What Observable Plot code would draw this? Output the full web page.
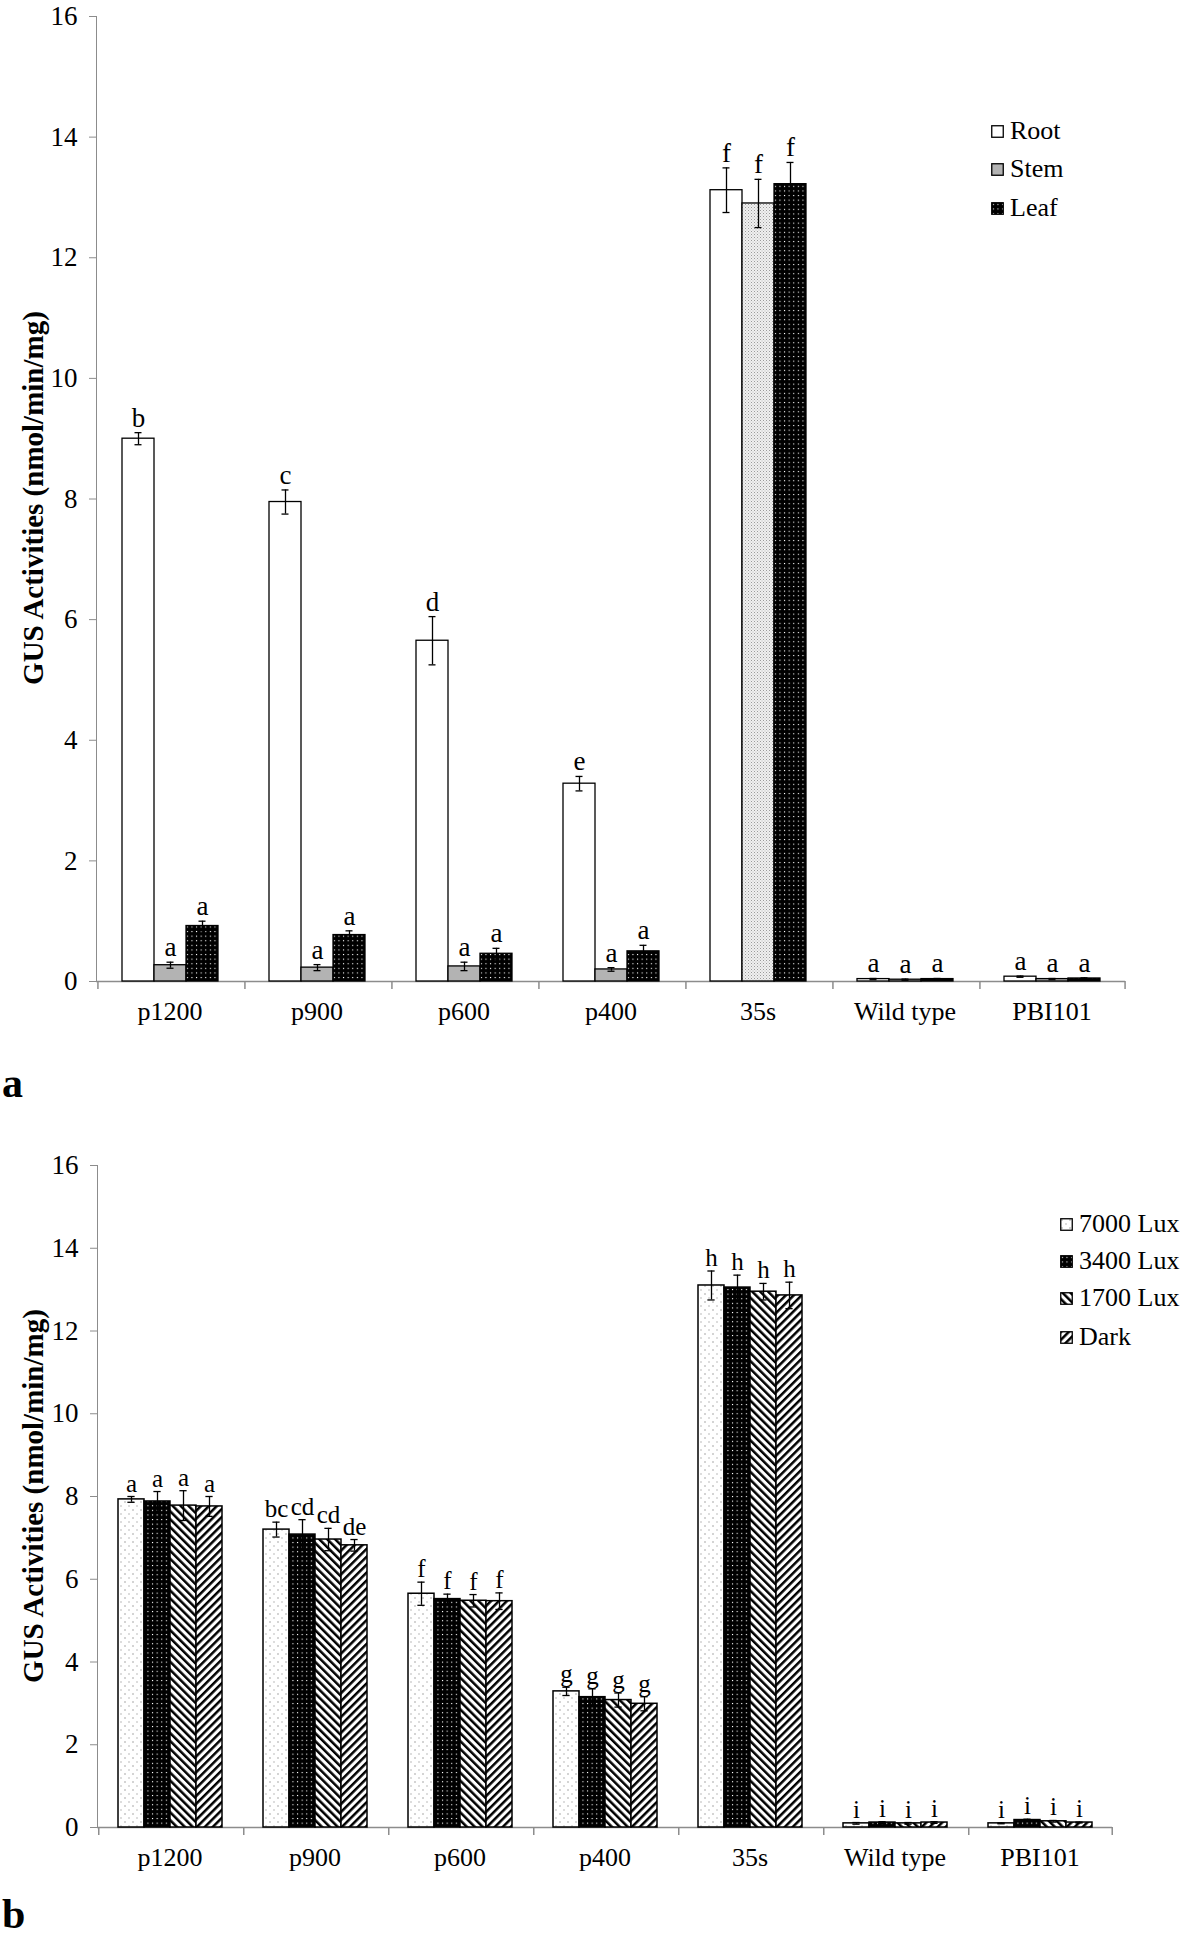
<!DOCTYPE html>
<html>
<head>
<meta charset="utf-8">
<script src="https://cdn.jsdelivr.net/npm/d3@7"></script>
<script src="https://cdn.jsdelivr.net/npm/@observablehq/plot@0.6"></script>
<style>
  body { margin: 0; background: #fff; font-family: "Liberation Serif", "Times New Roman", serif; }
  #page { position: relative; width: 1181px; height: 1938px; overflow: hidden; background: #fff; }
  .chart { position: absolute; left: 0; }
  .chart svg text { fill: #000; }
  .ylab { position: absolute; font-weight: bold; font-size: 29px; white-space: nowrap; transform: translate(-50%, -50%) rotate(-90deg); color: #000; }
  .panel { position: absolute; font-weight: bold; font-size: 42px; line-height: 1; color: #000; }
  .legend-row { position: absolute; display: flex; align-items: center; white-space: nowrap; font-size: 26px; height: 30px; color: #000; }
  .legend-row svg { margin-right: 6px; }
</style>
</head>
<body>
<svg width="0" height="0" style="position:absolute">
  <defs>
    <pattern id="pStem35" width="3" height="3" patternUnits="userSpaceOnUse">
      <rect width="3" height="3" fill="#f0f0f0"/>
      <rect width="1" height="1" fill="#9a9a9a"/>
      <rect x="1.5" y="1.5" width="1" height="1" fill="#b8b8b8"/>
    </pattern>
    <pattern id="pDotsBlack" width="4.6" height="4.6" patternUnits="userSpaceOnUse">
      <rect width="4.6" height="4.6" fill="#000"/>
      <rect x="1.8" y="1.8" width="1.1" height="1.1" fill="#fff"/>
    </pattern>
    <pattern id="pDotsWhite" width="8" height="8" patternUnits="userSpaceOnUse">
      <rect width="8" height="8" fill="#fff"/>
      <rect x="1.5" y="1.5" width="1" height="1" fill="#555"/>
      <rect x="5.5" y="5.5" width="1" height="1" fill="#777"/>
    </pattern>
    <pattern id="pBack" width="5.6" height="5.6" patternUnits="userSpaceOnUse" patternTransform="rotate(-45)">
      <rect width="5.6" height="5.6" fill="#fff"/>
      <rect width="2.5" height="5.6" fill="#000"/>
    </pattern>
    <pattern id="pFwd" width="5.6" height="5.6" patternUnits="userSpaceOnUse" patternTransform="rotate(45)">
      <rect width="5.6" height="5.6" fill="#fff"/>
      <rect width="2.5" height="5.6" fill="#000"/>
    </pattern>
  </defs>
</svg>
<div id="page"></div>
<script>
// ---------- data ----------
const categories = ["p1200", "p900", "p600", "p400", "35s", "Wild type", "PBI101"];
const yTicks = [0, 2, 4, 6, 8, 10, 12, 14, 16];

// Panel a: tissues
const tissues = ["Root", "Stem", "Leaf"];
const rootMean = [9.00, 7.95, 5.65, 3.28, 13.12, 0.04, 0.08];
const rootErr  = [0.10, 0.20, 0.40, 0.12, 0.37, 0.01, 0.01];
const rootLetters = ["b", "c", "d", "e", "f", "a", "a"];
const stemMean = [0.27, 0.23, 0.25, 0.20, 12.90, 0.03, 0.04];
const stemErr  = [0.05, 0.05, 0.07, 0.03, 0.40, 0.01, 0.01];
const stemLetters = ["a", "a", "a", "a", "f", "a", "a"];
const leafMean = [0.92, 0.77, 0.46, 0.50, 13.22, 0.04, 0.05];
const leafErr  = [0.08, 0.07, 0.09, 0.10, 0.36, 0.01, 0.01];
const leafLetters = ["a", "a", "a", "a", "f", "a", "a"];

// Panel b: light intensity
const lights = ["7000 Lux", "3400 Lux", "1700 Lux", "Dark"];
const lux7000Mean = [7.93, 7.20, 5.65, 3.29, 13.10, 0.10, 0.10];
const lux7000Err  = [0.07, 0.18, 0.28, 0.10, 0.35, 0.02, 0.01];
const lux7000Letters = ["a", "bc", "f", "g", "h", "i", "i"];
const lux3400Mean = [7.88, 7.08, 5.52, 3.15, 13.05, 0.12, 0.18];
const lux3400Err  = [0.24, 0.36, 0.12, 0.20, 0.30, 0.02, 0.02];
const lux3400Letters = ["a", "cd", "f", "g", "h", "i", "i"];
const lux1700Mean = [7.78, 6.96, 5.48, 3.08, 12.95, 0.10, 0.15];
const lux1700Err  = [0.36, 0.27, 0.15, 0.17, 0.20, 0.02, 0.02];
const lux1700Letters = ["a", "cd", "f", "g", "h", "i", "i"];
const darkMean = [7.76, 6.82, 5.47, 2.99, 12.86, 0.12, 0.12];
const darkErr  = [0.24, 0.14, 0.20, 0.17, 0.32, 0.02, 0.01];
const darkLetters = ["a", "de", "f", "g", "h", "i", "i"];

// ---------- styles ----------
const AXIS = "#8c8c8c";
const FONT = "Liberation Serif, Times New Roman, serif";
const fillA = {Root: "#ffffff", Stem: "#b3b3b3", Leaf: "url(#pDotsBlack)"};
const fillA35 = {Root: "#ffffff", Stem: "url(#pStem35)", Leaf: "url(#pDotsBlack)"};
const fillB = {"7000 Lux": "url(#pDotsWhite)", "3400 Lux": "url(#pDotsBlack)", "1700 Lux": "url(#pBack)", "Dark": "url(#pFwd)"};

function buildRows(seriesNames, means, errs, letters) {
  const rows = [];
  categories.forEach((cat, i) => {
    seriesNames.forEach((s, j) => {
      rows.push({cat, series: s, v: means[j][i], e: errs[j][i], letter: letters[j][i]});
    });
  });
  return rows;
}

const rowsA = buildRows(tissues, [rootMean, stemMean, leafMean], [rootErr, stemErr, leafErr], [rootLetters, stemLetters, leafLetters]);
const rowsB = buildRows(lights, [lux7000Mean, lux3400Mean, lux1700Mean, darkMean],
  [lux7000Err, lux3400Err, lux1700Err, darkErr],
  [lux7000Letters, lux3400Letters, lux1700Letters, darkLetters]);

function makeChart({rows, seriesNames, fillOf, height, marginTop, marginBottom, marginLeft, marginRight, groupW, capW, letterDy, letterSize, barStroke}) {
  const W = 1181;
  const n = seriesNames.length;
  const fw = (W - marginLeft - marginRight) / categories.length;
  const step = groupW / n;
  const po = (fw / step - n) / 2;
  const edge = (po + 0.5) * step;
  const capInset = (step - capW) / 2;
  const last = categories[categories.length - 1];
  return Plot.plot({
    width: W, height, marginTop, marginBottom, marginLeft, marginRight,
    style: {fontFamily: FONT, fontSize: "27px", color: AXIS, background: "transparent"},
    fx: {domain: categories, padding: 0, axis: null},
    x: {domain: seriesNames, paddingInner: 0, paddingOuter: po, axis: null},
    y: {domain: [0, 16], ticks: yTicks, tickSize: 7, tickPadding: 12, label: null, line: true},
    color: {type: "identity"},
    marks: [
      Plot.ruleY([0], {stroke: AXIS, strokeWidth: 1.5}),
      Plot.ruleX(categories, {fx: d => d, x: () => seriesNames[0], y1: 0, y2: 0, insetBottom: -8, dx: -edge, stroke: AXIS, strokeWidth: 1.5}),
      Plot.ruleX([last], {fx: d => d, x: () => seriesNames[n - 1], y1: 0, y2: 0, insetBottom: -8, dx: edge, stroke: AXIS, strokeWidth: 1.5}),
      Plot.barY(rows, {fx: "cat", x: "series", y1: 0, y2: "v", fill: fillOf, stroke: "#000", strokeWidth: barStroke}),
      Plot.ruleX(rows, {fx: "cat", x: "series", y1: d => d.v - d.e, y2: d => d.v + d.e, stroke: "#000", strokeWidth: 1.3}),
      Plot.tickY(rows, {fx: "cat", x: "series", y: d => d.v - d.e, insetLeft: capInset, insetRight: capInset, stroke: "#000", strokeWidth: 1.3}),
      Plot.tickY(rows, {fx: "cat", x: "series", y: d => d.v + d.e, insetLeft: capInset, insetRight: capInset, stroke: "#000", strokeWidth: 1.3}),
      Plot.text(rows, {fx: "cat", x: "series", y: d => d.v + d.e, text: "letter", lineAnchor: "bottom", dy: letterDy, fontSize: letterSize, fill: "#000"}),
      Plot.text(categories, {fx: d => d, frameAnchor: "bottom", dy: 38, text: d => d, fontSize: 26, fill: "#000"})
    ]
  });
}

const page = document.getElementById("page");

function place(el, top) {
  const d = document.createElement("div");
  d.className = "chart";
  d.style.top = top + "px";
  d.appendChild(el);
  page.appendChild(d);
}

const chartA = makeChart({
  rows: rowsA, seriesNames: tissues,
  fillOf: d => (d.cat === "35s" ? fillA35 : fillA)[d.series],
  height: 1050, marginTop: 16, marginBottom: 69, marginLeft: 95, marginRight: 56,
  groupW: 99, capW: 8, letterDy: -6, letterSize: 27, barStroke: 1.3
});
place(chartA, 0);

const chartB = makeChart({
  rows: rowsB, seriesNames: lights,
  fillOf: d => fillB[d.series],
  height: 747, marginTop: 25, marginBottom: 60, marginLeft: 94, marginRight: 67,
  groupW: 107, capW: 8, letterDy: -5, letterSize: 25, barStroke: 1.5
});
place(chartB, 1140);

function addDiv(cls, text, styles) {
  const d = document.createElement("div");
  d.className = cls;
  d.textContent = text;
  Object.assign(d.style, styles);
  page.appendChild(d);
  return d;
}

addDiv("ylab", "GUS Activities (nmol/min/mg)", {left: "33px", top: "498px"});
addDiv("ylab", "GUS Activities (nmol/min/mg)", {left: "33px", top: "1496px"});
addDiv("panel", "a", {left: "2px", top: "1062px"});
addDiv("panel", "b", {left: "2px", top: "1893px"});

function legend(items, fills, left, centers) {
  items.forEach((name, i) => {
    const row = document.createElement("div");
    row.className = "legend-row";
    row.style.left = left + "px";
    row.style.top = (centers[i] - 15) + "px";
    const ns = "http://www.w3.org/2000/svg";
    const s = document.createElementNS(ns, "svg");
    s.setAttribute("width", "13");
    s.setAttribute("height", "13");
    const r = document.createElementNS(ns, "rect");
    r.setAttribute("x", "0.75"); r.setAttribute("y", "0.75");
    r.setAttribute("width", "11.5"); r.setAttribute("height", "11.5");
    r.setAttribute("fill", fills[name]);
    r.setAttribute("stroke", "#000");
    r.setAttribute("stroke-width", "1.3");
    s.appendChild(r);
    row.appendChild(s);
    const t = document.createElement("span");
    t.textContent = name;
    row.appendChild(t);
    page.appendChild(row);
  });
}
legend(tissues, fillA, 991, [131, 169, 208]);
legend(lights, fillB, 1060, [1224, 1261, 1298, 1337]);
</script>
</body>
</html>
